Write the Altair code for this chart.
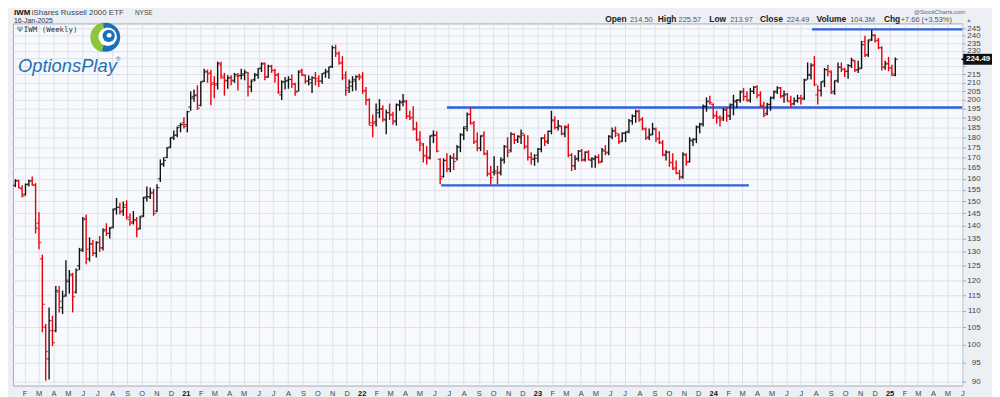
import altair as alt
import pandas as pd

# ---------------- weekly OHLC values ----------------
first_week = "2020-01-13"

opens_2020 = [157.0,158.8,155.5,153.0,157.5,159.0,157.0,141.0,127.5,105.0,96.0,104.0,104.0,116.0,111.0,115.0,119.5,121.5,116.0,125.0,131.0,143.0,127.5,133.0,129.5,133.5,131.5,138.5,137.0,139.5,147.0,147.5,146.0,148.5,142.5,141.5,142.0,139.0,144.0,152.0,152.0,154.0,146.0,160.0,167.0,170.0,175.0,180.0,181.0,186.0,187.5]
highs_2020 = [159.8,159.5,157.0,157.8,159.5,161.0,158.0,145.5,129.0,106.0,111.0,108.5,118.0,118.0,116.5,127.0,123.5,122.5,124.0,131.5,143.5,144.5,135.5,134.5,134.0,136.0,139.0,141.0,139.5,147.0,151.5,149.5,150.0,150.5,145.0,146.0,143.5,144.0,152.0,156.5,156.0,155.5,157.5,169.0,170.0,175.0,180.0,183.5,185.5,187.5,190.5]
lows_2020 = [156.2,155.6,151.8,152.5,156.5,156.8,137.0,131.0,103.5,90.2,90.5,99.5,103.5,109.5,109.0,114.5,115.5,109.5,115.5,123.5,130.0,125.5,126.5,128.5,128.0,130.0,130.5,136.0,135.0,139.0,144.5,144.5,144.0,142.5,140.0,140.5,135.5,138.5,143.5,150.0,151.0,144.0,145.5,158.5,165.5,169.5,174.5,178.5,180.0,182.5,184.5]
closes_2020 = [159.2,156.0,152.3,157.4,159.0,157.3,139.0,133.5,112.0,98.0,107.0,100.5,116.5,113.0,114.5,120.0,122.0,114.5,123.5,130.5,142.5,131.0,133.0,129.5,133.5,131.5,138.0,137.0,139.0,146.5,147.5,145.5,147.5,143.5,141.0,142.5,138.5,143.5,151.5,152.0,153.5,145.0,156.0,166.5,168.5,174.5,179.5,181.0,185.0,186.5,185.5]

opens_2021 = [186.5,196.0,202.0,203.0,197.0,211.0,217.0,216.0,210.0,209.5,221.0,213.0,211.5,213.0,211.5,214.0,214.5,215.5,216.0,207.5,212.0,215.0,219.0,222.0,213.5,220.0,217.5,215.0,203.0,210.5,211.5,212.0,209.0,205.0,217.5,214.5,211.0,210.0,213.0,211.0,211.0,216.0,217.0,220.0,232.0,228.5,222.5,214.5,207.0,208.0,211.0,214.0]
highs_2021 = [194.0,205.0,206.0,208.5,211.0,218.5,218.0,218.0,214.0,223.0,223.0,216.0,214.5,214.5,216.0,216.0,218.5,218.0,216.5,212.0,216.0,219.0,222.5,222.5,221.0,221.0,218.5,216.0,211.5,213.5,214.0,215.0,210.0,217.5,218.5,215.0,214.5,214.0,216.5,214.5,216.0,218.5,220.0,233.5,234.0,229.5,226.5,217.0,212.0,214.0,214.5,215.5]
lows_2021 = [182.5,194.0,199.0,194.5,196.5,210.5,210.0,197.0,201.0,206.0,212.5,202.5,206.5,208.5,210.0,205.5,212.0,211.5,202.0,204.5,211.0,212.5,216.5,211.5,213.0,216.0,210.0,203.5,200.0,206.0,206.5,207.0,202.5,205.0,214.0,209.5,208.5,204.0,208.5,207.5,209.5,213.0,212.5,219.0,226.0,221.0,211.5,202.5,204.0,205.0,205.5,211.5]
closes_2021 = [193.5,201.0,202.5,195.5,210.5,216.5,215.5,209.0,208.5,222.0,214.0,211.0,213.0,211.0,215.0,214.0,214.5,216.5,208.0,211.0,214.5,218.5,221.5,213.5,220.0,217.5,214.5,204.5,210.5,211.0,212.0,209.5,204.5,216.5,215.0,211.0,212.0,213.0,212.5,211.0,215.5,216.5,219.5,232.0,228.0,222.0,213.0,205.5,210.5,212.0,213.5,213.0]

opens_2022 = [214.0,205.5,200.0,186.0,188.0,193.0,195.0,189.0,193.0,191.5,188.5,197.0,199.0,199.0,191.0,190.5,184.0,179.0,176.0,170.5,170.0,181.0,181.0,169.0,161.0,168.5,164.5,169.5,169.5,175.0,181.0,185.5,192.0,187.0,178.0,174.5,181.0,171.5,162.0,163.0,162.5,163.0,169.0,175.5,173.5,181.5,178.5,180.0,181.0,175.5,170.0,169.0]
highs_2022 = [216.5,207.5,201.0,192.0,198.0,200.5,197.0,194.5,198.0,193.5,198.0,200.0,203.5,200.0,194.0,196.5,188.0,183.0,177.0,175.5,181.0,183.5,183.0,169.5,169.5,172.0,171.0,172.0,176.0,182.0,185.5,193.0,195.5,188.5,182.5,181.0,183.0,173.5,166.0,170.5,166.0,170.0,176.0,180.0,182.5,182.0,181.0,184.0,181.5,181.0,172.5,171.5]
lows_2022 = [203.5,197.0,186.0,180.0,185.5,190.0,188.0,181.5,189.0,186.5,186.0,194.0,196.5,189.5,189.0,183.5,178.0,173.0,167.5,166.5,169.0,177.0,172.5,157.5,160.5,163.0,163.0,164.0,168.5,172.5,178.5,183.0,186.5,176.5,173.0,173.0,171.0,161.0,157.5,161.5,157.5,161.5,167.0,170.0,172.5,176.5,177.0,176.5,174.0,168.5,166.5,166.0]
closes_2022 = [205.0,200.0,187.5,187.0,194.5,195.0,189.5,193.0,192.0,188.0,197.5,198.5,199.5,191.0,190.0,184.5,178.5,177.0,171.0,169.5,180.5,181.0,173.0,160.0,168.5,164.5,170.0,168.0,175.0,181.5,184.5,192.0,187.5,177.5,174.5,180.5,172.0,162.5,160.5,163.5,162.5,168.5,175.0,172.5,181.5,178.5,180.5,182.0,175.0,170.0,169.5,169.5]

opens_2023 = [171.0,174.0,179.5,178.0,183.0,188.5,185.0,185.5,182.0,185.5,171.0,166.0,169.5,173.0,169.0,172.5,168.5,169.0,170.0,168.0,173.0,172.5,180.0,183.5,181.0,178.0,182.0,183.0,188.5,191.0,194.0,189.5,184.0,180.0,181.5,184.0,179.5,177.0,171.0,172.5,167.5,165.0,162.5,161.0,171.0,168.0,178.0,179.0,185.0,187.0,196.5,199.5]
highs_2023 = [174.5,180.0,181.5,183.5,194.0,191.0,189.0,186.0,186.0,187.0,172.0,171.0,173.5,174.0,173.0,173.5,170.0,171.0,171.5,174.5,176.0,181.0,185.0,185.5,182.0,182.5,183.0,189.5,192.0,194.5,194.5,190.5,185.0,184.5,187.5,185.0,183.0,178.5,173.5,173.0,172.0,168.5,164.0,172.5,172.0,180.0,179.5,186.0,187.5,197.5,201.5,202.5]
lows_2023 = [167.5,172.5,175.5,176.5,181.5,184.0,183.5,181.0,180.0,170.0,163.5,164.0,168.0,168.0,168.0,168.5,165.0,165.0,167.0,167.5,171.0,171.0,179.0,180.0,176.5,177.5,177.5,182.0,186.5,187.5,188.0,183.5,178.5,178.5,181.0,177.5,176.5,170.5,168.5,165.5,164.0,162.0,159.5,160.0,166.0,167.5,175.5,177.0,182.0,185.5,193.5,197.5]
closes_2023 = [174.0,179.5,177.5,183.0,189.0,185.0,186.0,181.5,185.0,171.0,166.0,169.0,173.0,168.5,172.5,169.0,169.5,170.0,167.5,173.5,172.0,180.5,183.0,182.0,177.5,182.0,182.5,188.5,191.0,193.5,189.0,184.5,179.5,181.0,184.5,179.0,177.5,171.5,172.5,167.5,164.5,162.5,160.5,171.5,167.5,178.5,178.8,185.5,186.5,196.5,199.0,198.5]

opens_2024 = [197.5,191.0,190.0,190.0,194.5,191.0,197.5,199.0,200.0,205.0,202.0,200.0,205.0,207.5,203.0,196.5,192.5,197.5,201.5,205.0,207.0,202.5,203.5,199.0,198.0,199.5,201.0,201.0,212.0,214.5,221.0,203.0,205.5,211.0,218.0,216.5,205.0,211.5,219.5,218.5,217.0,220.5,223.5,218.0,219.0,236.0,227.5,237.5,240.0,237.0,232.0,219.5,222.0,219.0,214.5]
highs_2024 = [198.0,194.0,191.5,195.5,196.0,198.0,203.0,200.5,205.5,207.0,205.0,207.0,208.0,208.5,205.0,199.0,198.5,202.0,205.5,208.0,207.5,205.5,204.0,202.5,201.5,203.0,203.0,212.5,222.5,222.0,226.5,208.5,211.0,219.0,221.0,217.5,211.5,222.5,222.5,219.0,221.5,225.5,224.0,223.5,236.5,240.0,237.5,244.0,241.0,238.5,233.0,223.5,226.0,221.0,225.57]
lows_2024 = [189.5,187.0,185.5,188.5,188.0,189.0,191.5,195.5,198.5,199.5,199.0,198.5,203.5,201.0,196.0,190.5,191.5,194.0,200.5,203.5,201.0,198.5,199.0,196.0,197.0,198.5,197.5,200.0,212.0,212.0,208.0,197.5,202.0,207.5,214.0,203.5,203.0,210.0,216.5,213.5,212.5,219.0,216.5,216.0,218.5,226.0,226.0,236.5,235.5,231.0,217.5,218.0,217.0,214.0,213.97]
closes_2024 = [191.5,190.5,189.0,194.5,191.5,197.0,199.5,200.0,204.5,202.0,199.5,205.0,207.5,202.5,197.0,191.5,197.5,201.0,204.5,207.0,202.0,203.0,199.5,197.5,199.5,201.0,200.5,211.5,215.0,220.5,209.0,205.5,210.5,218.0,217.0,204.0,211.0,219.5,218.0,217.0,220.5,224.0,217.5,218.5,234.0,227.0,236.5,240.5,236.5,232.0,219.5,221.5,219.0,215.5,224.49]

# horizontal trend lines drawn on the chart
trend_start = ["2024-07-24", "2022-06-27", "2022-06-15"]
trend_end = ["2025-06-01", "2025-06-01", "2024-03-15"]
trend_level = [244.3, 195.8, 157.0]

y_ticks = list(range(90, 250, 5))

# header texts
quote_labels = ["Open", "High", "Low", "Close", "Volume", "Chg"]
quote_values = ["214.50", "225.57", "213.97", "224.49", "104.3M", "+7.66 (+3.53%)"]

# ---------------- build table ----------------
opens = opens_2020 + opens_2021 + opens_2022 + opens_2023 + opens_2024
highs = highs_2020 + highs_2021 + highs_2022 + highs_2023 + highs_2024
lows = lows_2020 + lows_2021 + lows_2022 + lows_2023 + lows_2024
closes = closes_2020 + closes_2021 + closes_2022 + closes_2023 + closes_2024

dates = pd.date_range(first_week, periods=len(closes), freq="7D").strftime("%Y-%m-%d").tolist()
prev = [closes[0]] + closes[:-1]
direction = ["down" if c < p else "up" for c, p in zip(closes, prev)]
df = pd.DataFrame({"date": dates, "open": opens, "high": highs, "low": lows,
                   "close": closes, "dir": direction})

trend_df = pd.DataFrame({"start": trend_start, "end": trend_end, "level": trend_level})
last_df = pd.DataFrame({"v": [closes[-1]], "t": [f"{closes[-1]:.2f}"]})

FONT = "Liberation Sans"
GRID = "#dde2e9"

xscale = alt.Scale(domain=[alt.DateTime(year=2020, month=1, date=8, utc=True),
                           alt.DateTime(year=2025, month=6, date=1, utc=True)], nice=False)
yscale = alt.Scale(type="log", domain=[89, 248.5], nice=False)

xaxis = alt.Axis(
    title=None,
    tickCount={"interval": "month", "step": 1},
    labelExpr="month(datum.value) == 0 ? timeFormat(datum.value, '%y') : slice(timeFormat(datum.value, '%b'), 0, 1)",
    labelFontWeight={"condition": {"test": "month(datum.value) == 0", "value": "bold"}, "value": "normal"},
    labelColor={"condition": {"test": "month(datum.value) == 0", "value": "#111111"}, "value": "#444444"},
    labelFontSize=7.5, labelFont=FONT, labelOverlap=False, labelFlush=False,
    labelPadding=4, ticks=False, domain=False,
    grid=True, gridColor=GRID, gridWidth=1,
)
yaxis = alt.Axis(
    title=None, orient="right", values=y_ticks, format="d",
    # the last-price tag covers the 220 and 225 labels
    labelExpr="datum.value == 220 || datum.value == 225 ? '' : datum.label",
    labelAlign="right", labelPadding=15, tickSize=3, tickColor="#9aa1ab",
    labelFontSize=8, labelFont=FONT, labelColor="#444444", labelOverlap=False,
    domain=False, grid=True, gridColor=GRID, gridWidth=1,
)

color = alt.Color("dir:N", scale=alt.Scale(domain=["up", "down"], range=["#111111", "#e8000b"]), legend=None)

base = alt.Chart(df)
bars = base.mark_rule(strokeWidth=1.4).encode(
    x=alt.X("date:T", scale=xscale, axis=xaxis),
    y=alt.Y("low:Q", scale=yscale, axis=yaxis),
    y2="high:Q", color=color)
open_ticks = base.mark_tick(orient="horizontal", size=2.4, thickness=1.3, xOffset=-1.3).encode(
    x=alt.X("date:T", scale=xscale, axis=xaxis),
    y=alt.Y("open:Q", scale=yscale, axis=yaxis), color=color)
close_ticks = base.mark_tick(orient="horizontal", size=2.4, thickness=1.3, xOffset=1.3).encode(
    x=alt.X("date:T", scale=xscale, axis=xaxis),
    y=alt.Y("close:Q", scale=yscale, axis=yaxis), color=color)

trend = alt.Chart(trend_df).mark_rule(color="#3060da", strokeWidth=2.3).encode(
    x=alt.X("start:T", scale=xscale, axis=xaxis), x2="end:T",
    y=alt.Y("level:Q", scale=yscale, axis=yaxis))

tag = alt.Chart(last_df).mark_tick(orient="horizontal", size=30, thickness=11, color="#111111", opacity=1).encode(
    x=alt.value(973), y=alt.Y("v:Q", scale=yscale, axis=yaxis))
tag_ptr = alt.Chart(last_df).mark_point(shape="triangle-left", filled=True, size=30, color="#111111", opacity=1).encode(
    x=alt.value(958), y=alt.Y("v:Q", scale=yscale, axis=yaxis))
tag_text = alt.Chart(last_df).mark_text(color="white", fontSize=8, fontWeight="bold", font=FONT,
                                        align="center", baseline="middle").encode(
    x=alt.value(973), y=alt.Y("v:Q", scale=yscale, axis=yaxis), text="t:N")


def label(text, x, y, size=8, weight="normal", color="#222222", align="left", font=FONT, style="normal"):
    return alt.Chart(pd.DataFrame({"t": [text]})).mark_text(
        align=align, baseline="alphabetic", fontSize=size, fontWeight=weight,
        color=color, font=font, fontStyle=style).encode(
        x=alt.value(x), y=alt.value(y), text="t:N")


def dot(x, y, r, col):
    return alt.Chart(pd.DataFrame({"k": [0]})).mark_point(
        shape="circle", filled=True, size=3.1416 * r * r, color=col, opacity=1, strokeWidth=0).encode(
        x=alt.value(x), y=alt.value(y))


def ring(x, y, r_out, r_in, t0, t1, col):
    return alt.Chart(pd.DataFrame({"k": [0]})).mark_arc(
        radius=r_out, radius2=r_in, theta=t0, theta2=t1, color=col, opacity=1, strokeWidth=0).encode(
        x=alt.value(x), y=alt.value(y))


texts = [
    label("IWM", 1, -8.5, size=8, weight="bold", color="#111111"),
    label("iShares Russell 2000 ETF", 19, -8.5, size=8, color="#444444"),
    label("NYSE", 123, -8.5, size=6.5, color="#444444"),
    label("16-Jan-2025", 1, -0.8, size=7, color="#333333"),
    label("@StockCharts.com", 960, -9.5, size=6, color="#666666", align="right"),
    label("▲", 961, -1.8, size=5.5, color="#888888"),
    label("Ψ", 4, 9, size=7.5, color="#555555", font="DejaVu Sans"),
    label("IWM (Weekly)", 11, 9, size=7.5, color="#333333", font="DejaVu Sans Mono"),
]
lab_x = [597, 650, 702, 753, 810, 878]
val_x = [622, 671, 723, 780, 844, 895]
for name, val, lx, vx in zip(quote_labels, quote_values, lab_x, val_x):
    texts.append(label(name, lx, -1.8, size=8.5, weight="bold", color="#222222"))
    texts.append(label(val, vx, -1.8, size=7.5, color="#555555"))

logo = [
    dot(93.5, 14, 16.5, "#1c6fb8"),
    ring(93.5, 14, 15.5, 0, 3.4, 6.1, "#8cc63f"),
    dot(95.5, 13.5, 10.5, "#ffffff"),
    dot(96.5, 12.5, 7.0, "#1c6fb8"),
    dot(97.0, 12.0, 2.8, "#ffffff"),
    label("OptionsPlay", 5, 49, size=18.5, color="#1f70b8", style="italic"),
    label("®", 104, 38, size=6, color="#1f70b8"),
]

chart = alt.layer(trend, bars, open_ticks, close_ticks, tag, tag_ptr, tag_text, *texts, *logo).properties(
    width=957, height=365,
    padding={"left": 5, "top": 14, "right": 30, "bottom": 10},
    autosize=alt.AutoSizeParams(type="none"),
    background="#eceff4",
).configure_view(fill="#f7f9fc", stroke="#a3aab5", strokeWidth=1)

chart.save("out.html", embed_options={"renderer": "svg", "actions": False})
